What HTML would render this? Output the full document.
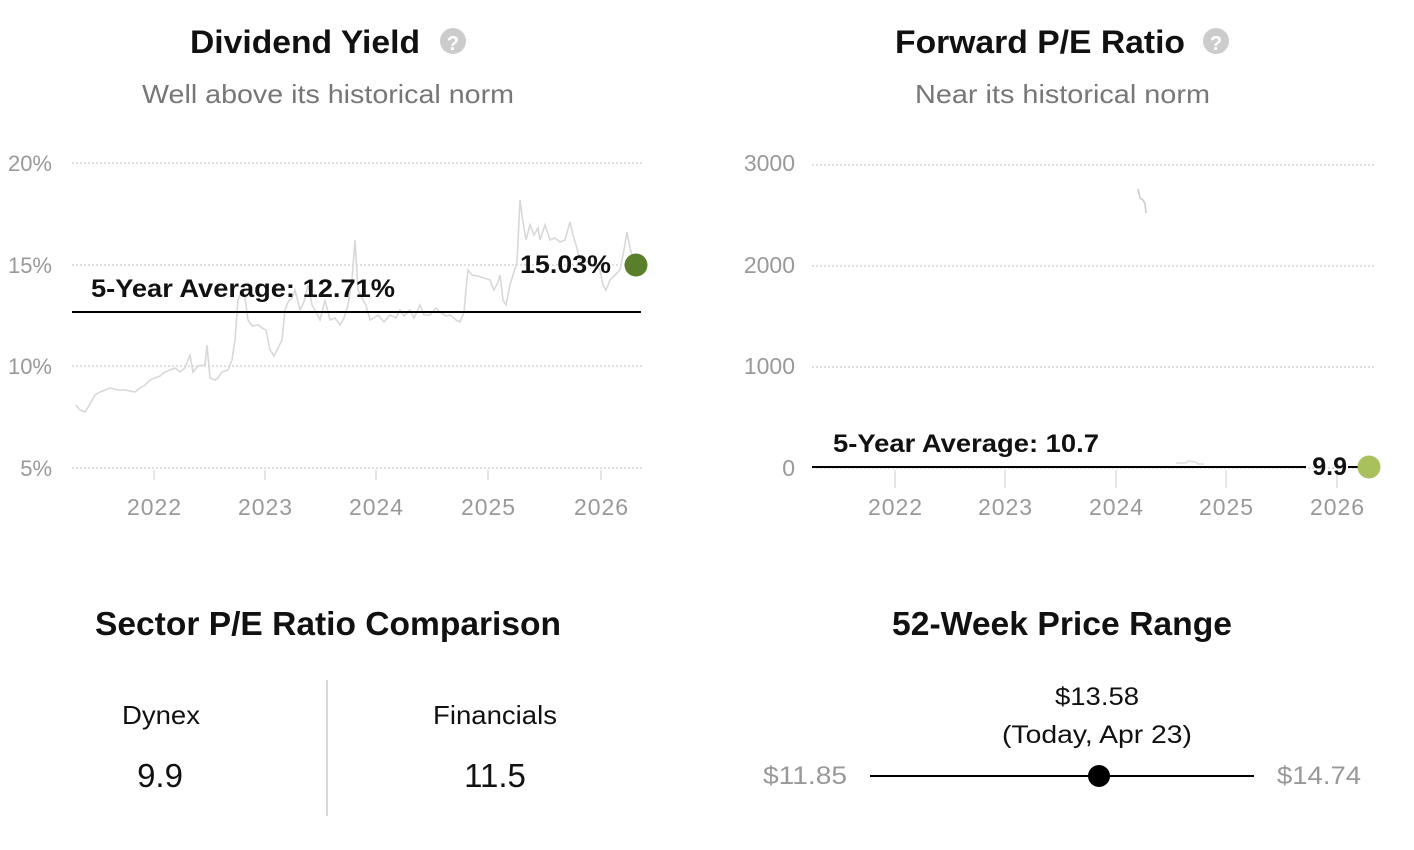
<!DOCTYPE html>
<html><head><meta charset="utf-8"><style>
html,body{margin:0;padding:0;background:#fff;width:1414px;height:850px;overflow:hidden}
svg{display:block;font-family:"Liberation Sans",sans-serif}
</style></head><body>
<svg width="1414" height="850" viewBox="0 0 1414 850">
<text x="190" y="53" font-size="32" font-weight="bold" fill="#111" textLength="230" lengthAdjust="spacingAndGlyphs">Dividend Yield</text>
<circle cx="453" cy="41" r="13" fill="#ccc"/><text x="453" y="50" text-anchor="middle" font-size="20" font-weight="bold" fill="#fff">?</text>
<text x="142" y="103" font-size="26" fill="#777" textLength="372" lengthAdjust="spacingAndGlyphs">Well above its historical norm</text>
<text x="895" y="53" font-size="32" font-weight="bold" fill="#111" textLength="290" lengthAdjust="spacingAndGlyphs">Forward P/E Ratio</text>
<circle cx="1216" cy="41" r="13" fill="#ccc"/><text x="1216" y="50" text-anchor="middle" font-size="20" font-weight="bold" fill="#fff">?</text>
<text x="915" y="103" font-size="26" fill="#777" textLength="295" lengthAdjust="spacingAndGlyphs">Near its historical norm</text>

<!-- Left chart -->
<g stroke="#ccc" stroke-width="1.2" stroke-dasharray="2,2">
<line x1="72" y1="163" x2="642" y2="163"/><line x1="72" y1="265" x2="642" y2="265"/><line x1="72" y1="366" x2="642" y2="366"/><line x1="72" y1="468" x2="642" y2="468"/>
</g>
<g font-size="22" fill="#999" text-anchor="end">
<text x="52" y="171">20%</text><text x="52" y="273">15%</text><text x="52" y="374">10%</text><text x="52" y="476">5%</text>
</g>
<g stroke="#ddd" stroke-width="1.5"><line x1="154" y1="470" x2="154" y2="480"/><line x1="265" y1="470" x2="265" y2="480"/><line x1="376" y1="470" x2="376" y2="480"/><line x1="488" y1="470" x2="488" y2="480"/><line x1="601" y1="470" x2="601" y2="480"/></g>
<g font-size="23" fill="#999">
<text x="127" y="515" textLength="54">2022</text><text x="238" y="515" textLength="54">2023</text><text x="349" y="515" textLength="54">2024</text><text x="461" y="515" textLength="54">2025</text><text x="574" y="515" textLength="54">2026</text>
</g>
<polyline fill="none" stroke="#d8d8d8" stroke-width="1.6" points="76,405 80,410 85,412 90,404 95,395 100,392 110,388 118,390 125,390 135,392 140,388 145,385 150,380 155,378 160,376 165,372 170,370 175,368 180,372 185,368 188,360 190,355 193,372 198,366 205,365 207,345 210,378 215,380 218,378 222,372 228,370 232,360 235,340 238,300 241,292 245,298 248,320 252,326 258,325 262,328 266,330 270,350 274,356 278,348 282,340 285,310 288,302 292,298 295,290 300,310 304,302 308,285 312,305 316,312 320,320 325,300 330,320 335,318 340,325 344,318 348,305 352,280 355,240 358,290 362,298 366,305 370,320 374,318 378,315 384,322 390,315 396,318 400,310 404,316 410,310 414,318 420,305 424,315 430,315 436,308 440,312 446,316 450,315 456,320 460,322 464,312 466,290 468,270 472,275 478,276 484,278 490,280 494,290 498,282 500,275 503,300 506,305 510,285 514,272 517,262 520,200 523,222 526,240 530,225 534,235 538,228 540,240 545,225 550,240 555,238 560,242 565,240 570,222 573,235 576,245 580,260 588,262 595,266 600,270 603,285 606,290 610,280 614,276 620,270 624,250 627,232 630,248 633,258 636,265"/>
<line x1="72" y1="312" x2="641" y2="312" stroke="#000" stroke-width="2"/>
<text x="91" y="297" font-size="25" font-weight="bold" fill="#111" textLength="304" lengthAdjust="spacingAndGlyphs">5-Year Average: 12.71%</text>
<text x="520" y="273" font-size="25" font-weight="bold" fill="#111" textLength="91" lengthAdjust="spacingAndGlyphs">15.03%</text>
<circle cx="636" cy="265" r="11.5" fill="#5a7f2b"/>

<!-- Right chart -->
<g stroke="#ccc" stroke-width="1.2" stroke-dasharray="2,2">
<line x1="812" y1="165" x2="1376" y2="165"/><line x1="812" y1="266" x2="1376" y2="266"/><line x1="812" y1="367" x2="1376" y2="367"/><line x1="812" y1="468" x2="1376" y2="468"/>
</g>
<g font-size="23" fill="#999" text-anchor="end">
<text x="795" y="171">3000</text><text x="795" y="273">2000</text><text x="795" y="374">1000</text><text x="795" y="476">0</text>
</g>
<g stroke="#ddd" stroke-width="1.5"><line x1="895" y1="470" x2="895" y2="488"/><line x1="1005" y1="470" x2="1005" y2="488"/><line x1="1116" y1="470" x2="1116" y2="488"/><line x1="1226" y1="470" x2="1226" y2="488"/><line x1="1337" y1="470" x2="1337" y2="488"/></g>
<g font-size="23" fill="#999">
<text x="868" y="515" textLength="54">2022</text><text x="978" y="515" textLength="54">2023</text><text x="1089" y="515" textLength="54">2024</text><text x="1199" y="515" textLength="54">2025</text><text x="1310" y="515" textLength="54">2026</text>
</g>
<polyline fill="none" stroke="#ccc" stroke-width="1.6" points="1138,189 1140,198 1143,200 1145,204 1146,213"/>
<polyline fill="none" stroke="#ddd" stroke-width="1.5" points="1176,463 1186,463 1188,461 1196,462 1198,464 1204,464"/>
<line x1="812" y1="467" x2="1306" y2="467" stroke="#000" stroke-width="2"/>
<line x1="1348" y1="467" x2="1358" y2="467" stroke="#000" stroke-width="2"/>
<text x="833" y="452" font-size="25" font-weight="bold" fill="#111" textLength="266" lengthAdjust="spacingAndGlyphs">5-Year Average: 10.7</text>
<text x="1347" y="475" text-anchor="end" font-size="25" font-weight="bold" fill="#111">9.9</text>
<circle cx="1369" cy="467" r="11.5" fill="#a9c15c"/>

<!-- Sector comparison -->
<text x="95" y="635" font-size="33" font-weight="bold" fill="#111" textLength="466" lengthAdjust="spacingAndGlyphs">Sector P/E Ratio Comparison</text>
<text x="122" y="724" font-size="26" fill="#111" textLength="78" lengthAdjust="spacingAndGlyphs">Dynex</text>
<text x="160" y="787" text-anchor="middle" font-size="33" fill="#111">9.9</text>
<line x1="327" y1="680" x2="327" y2="816" stroke="#ccc" stroke-width="1.5"/>
<text x="433" y="724" font-size="26" fill="#111" textLength="124" lengthAdjust="spacingAndGlyphs">Financials</text>
<text x="495" y="787" text-anchor="middle" font-size="33" fill="#111">11.5</text>

<!-- 52 week -->
<text x="892" y="635" font-size="33" font-weight="bold" fill="#111" textLength="340" lengthAdjust="spacingAndGlyphs">52-Week Price Range</text>
<text x="1055" y="705" font-size="25" fill="#111" textLength="84" lengthAdjust="spacingAndGlyphs">$13.58</text>
<text x="1002" y="743" font-size="25" fill="#111" textLength="190" lengthAdjust="spacingAndGlyphs">(Today, Apr 23)</text>
<text x="763" y="784" font-size="25" fill="#999" textLength="84" lengthAdjust="spacingAndGlyphs">$11.85</text>
<text x="1277" y="784" font-size="25" fill="#999" textLength="84" lengthAdjust="spacingAndGlyphs">$14.74</text>
<line x1="870" y1="776" x2="1254" y2="776" stroke="#000" stroke-width="2"/>
<circle cx="1099" cy="776" r="11" fill="#000"/>
</svg>
</body></html>
